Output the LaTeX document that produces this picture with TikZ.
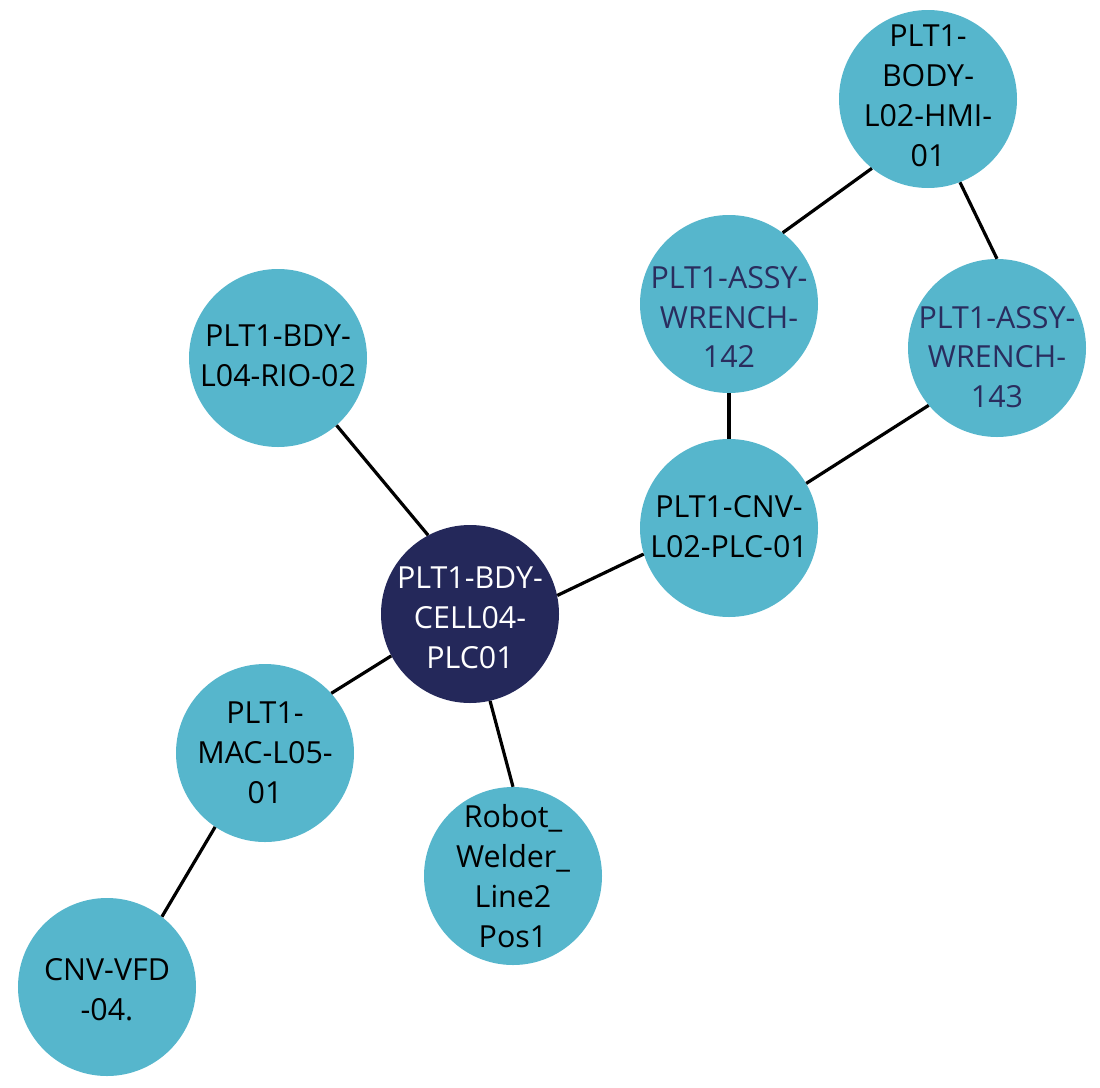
\documentclass[tikz,border=0pt]{standalone}
\usepackage{fontspec}
\setmainfont{Open Sans}
\definecolor{nodefill}{HTML}{56B6CC}
\definecolor{darkfill}{HTML}{24285A}
\definecolor{navytext}{HTML}{2A2D5E}
\begin{document}
\begin{tikzpicture}[x=1bp,y=-1bp,
  nd/.style={circle,fill=nodefill,draw=none,minimum size=178bp,inner sep=0pt},
  dk/.style={nd,fill=darkfill},
  lbl/.style={inner sep=0pt,align=center,font=\fontsize{30.5}{40}\selectfont,text=black},
  lbldk/.style={lbl,text=white},
  lblwr/.style={lbl,text=navytext},
  edge/.style={line width=3.2bp,black}]
\useasboundingbox (0,0) rectangle (1100,1088);
% circles
\node[nd] (hmi) at (928,99) {};
\node[nd] (w142) at (729,304) {};
\node[nd] (w143) at (997,348) {};
\node[nd] (rio) at (278,358) {};
\node[nd] (cnv) at (729,528) {};
\node[dk] (cell) at (470,614) {};
\node[nd] (mac) at (265,753) {};
\node[nd] (robot) at (513,876) {};
\node[nd] (vfd) at (107,987) {};
% labels
\node[lbl] (hmiT) at (928,96) {PLT1-\\BODY-\\L02-HMI-\\01};
\node[lblwr] (w142T) at (729,317) {PLT1-ASSY-\\WRENCH-\\142};
\node[lblwr] (w143T) at (997,357) {PLT1-ASSY-\\WRENCH-\\143};
\node[lbl] (rioT) at (278,356) {PLT1-BDY-\\L04-RIO-02};
\node[lbl] (cnvT) at (729,527) {PLT1-CNV-\\L02-PLC-01};
\node[lbldk] (cellT) at (470,618) {PLT1-BDY-\\CELL04-\\PLC01};
\node[lbl] (macT) at (265,753) {PLT1-\\MAC-L05-\\01};
\node[lbl] (robotT) at (513,876) {Robot\_\\Welder\_\\Line2\\Pos1};
\node[lbl] (vfdT) at (107,990) {CNV-VFD\\-04.};
% connectors
\draw[edge] (hmi.231) -- (w142.53);
\draw[edge] (hmi.291) -- (w143.90);
\draw[edge] (w142.270) -- (cnv.90);
\draw[edge] (w143.220) -- (cnv.30.5);
\draw[edge] (cnv.197.4) -- (cell.12.5);
\draw[edge] (rio.311) -- (cell.118);
\draw[edge] (cell.208.3) -- (mac.42.7);
\draw[edge] (cell.283.9) -- (robot.90);
\draw[edge] (mac.236.7) -- (vfd.52.6);
\end{tikzpicture}
\end{document}
